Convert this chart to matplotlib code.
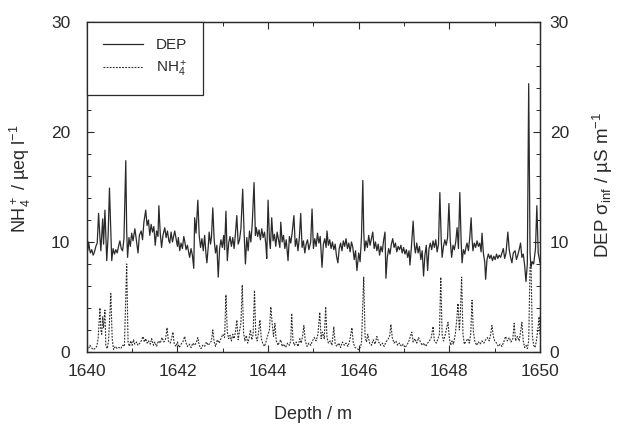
import matplotlib
matplotlib.use('Agg')
import matplotlib.pyplot as plt
from matplotlib.ticker import MultipleLocator
from matplotlib.lines import Line2D

plt.rcParams['font.family'] = ['Liberation Sans', 'DejaVu Sans']
plt.rcParams['mathtext.fontset'] = 'custom'
plt.rcParams['mathtext.rm'] = 'Liberation Sans'
plt.rcParams['mathtext.it'] = 'Liberation Sans:italic'

# DEP conductivity (right axis)
dep_depth = [
    1640.00, 1640.02, 1640.04, 1640.06, 1640.08, 1640.11, 1640.14, 1640.17, 1640.20, 1640.23,
    1640.26, 1640.29, 1640.31, 1640.35, 1640.37, 1640.40, 1640.44, 1640.47, 1640.50, 1640.53,
    1640.55, 1640.58, 1640.61, 1640.64, 1640.67, 1640.70, 1640.73, 1640.76, 1640.79, 1640.82,
    1640.86, 1640.88, 1640.90, 1640.93, 1640.96, 1640.99, 1641.02, 1641.06, 1641.09, 1641.13,
    1641.16, 1641.20, 1641.23, 1641.26, 1641.30, 1641.33, 1641.36, 1641.39, 1641.42, 1641.45,
    1641.48, 1641.51, 1641.54, 1641.57, 1641.59, 1641.62, 1641.65, 1641.68, 1641.72, 1641.75,
    1641.78, 1641.81, 1641.83, 1641.86, 1641.89, 1641.92, 1641.94, 1641.97, 1642.00, 1642.02,
    1642.05, 1642.08, 1642.11, 1642.14, 1642.16, 1642.19, 1642.22, 1642.25, 1642.27, 1642.30,
    1642.33, 1642.36, 1642.38, 1642.41, 1642.45, 1642.48, 1642.51, 1642.54, 1642.57, 1642.60,
    1642.63, 1642.65, 1642.68, 1642.70, 1642.73, 1642.75, 1642.78, 1642.81, 1642.84, 1642.87,
    1642.90, 1642.93, 1642.96, 1642.99, 1643.02, 1643.04, 1643.07, 1643.10, 1643.13, 1643.16,
    1643.19, 1643.22, 1643.25, 1643.28, 1643.31, 1643.34, 1643.37, 1643.40, 1643.44, 1643.47,
    1643.50, 1643.53, 1643.56, 1643.59, 1643.62, 1643.65, 1643.69, 1643.72, 1643.74, 1643.77,
    1643.80, 1643.83, 1643.86, 1643.89, 1643.92, 1643.95, 1643.97, 1644.00, 1644.03, 1644.05,
    1644.08, 1644.11, 1644.14, 1644.17, 1644.20, 1644.23, 1644.26, 1644.28, 1644.31, 1644.34,
    1644.37, 1644.40, 1644.44, 1644.47, 1644.50, 1644.53, 1644.57, 1644.60, 1644.63, 1644.66,
    1644.69, 1644.72, 1644.75, 1644.78, 1644.81, 1644.84, 1644.87, 1644.90, 1644.94, 1644.97,
    1645.00, 1645.03, 1645.06, 1645.09, 1645.12, 1645.15, 1645.19, 1645.22, 1645.25, 1645.28,
    1645.30, 1645.33, 1645.36, 1645.39, 1645.42, 1645.45, 1645.48, 1645.51, 1645.54, 1645.57,
    1645.60, 1645.63, 1645.66, 1645.69, 1645.72, 1645.75, 1645.78, 1645.81, 1645.84, 1645.87,
    1645.90, 1645.93, 1645.96, 1646.00, 1646.03, 1646.06, 1646.09, 1646.11, 1646.13, 1646.16,
    1646.19, 1646.22, 1646.25, 1646.28, 1646.31, 1646.34, 1646.37, 1646.40, 1646.43, 1646.46,
    1646.49, 1646.52, 1646.55, 1646.58, 1646.60, 1646.63, 1646.66, 1646.69, 1646.72, 1646.75,
    1646.78, 1646.81, 1646.84, 1646.87, 1646.90, 1646.93, 1646.96, 1646.99, 1647.02, 1647.05,
    1647.08, 1647.11, 1647.13, 1647.16, 1647.20, 1647.23, 1647.25, 1647.28, 1647.31, 1647.34,
    1647.37, 1647.40, 1647.43, 1647.46, 1647.49, 1647.52, 1647.55, 1647.58, 1647.61, 1647.64,
    1647.67, 1647.70, 1647.73, 1647.76, 1647.79, 1647.82, 1647.84, 1647.87, 1647.90, 1647.93,
    1647.96, 1647.99, 1648.02, 1648.05, 1648.08, 1648.11, 1648.14, 1648.17, 1648.20, 1648.23,
    1648.26, 1648.28, 1648.31, 1648.34, 1648.37, 1648.39, 1648.42, 1648.45, 1648.48, 1648.50,
    1648.52, 1648.55, 1648.58, 1648.61, 1648.64, 1648.67, 1648.70, 1648.72, 1648.75, 1648.78,
    1648.80, 1648.83, 1648.86, 1648.89, 1648.92, 1648.95, 1648.98, 1649.01, 1649.04, 1649.07,
    1649.10, 1649.13, 1649.16, 1649.19, 1649.22, 1649.25, 1649.29, 1649.32, 1649.35, 1649.38,
    1649.41, 1649.45, 1649.48, 1649.51, 1649.54, 1649.57, 1649.60, 1649.63, 1649.66, 1649.69,
    1649.72, 1649.75, 1649.78, 1649.80, 1649.83, 1649.86, 1649.90, 1649.93, 1649.96, 1650.00,
]
dep_value = [
    9.9, 9.2, 10.0, 9.4, 9.0, 9.3, 8.8, 9.1, 9.6, 9.9,
    12.6, 10.4, 9.2, 12.1, 9.8, 12.9, 8.3, 10.5, 14.9, 11.0,
    8.3, 9.4, 8.9, 9.3, 9.0, 9.6, 10.1, 9.4, 9.2, 10.3,
    17.4, 11.0, 8.6, 10.4, 9.6, 10.8, 10.1, 11.2, 10.3, 9.0,
    10.6, 11.0, 10.2, 11.8, 12.9, 11.5, 12.0, 10.6, 11.6, 10.9,
    11.4, 9.7, 11.0, 10.5, 13.3, 10.8, 9.5, 10.6, 11.3, 10.4,
    11.0, 10.1, 9.9, 10.9, 10.0, 10.6, 11.0, 10.3, 9.6, 10.4,
    9.2, 9.9, 9.4, 10.5, 10.1, 9.3, 9.7, 9.0, 8.6, 9.4,
    8.8, 7.6, 12.2, 10.8, 13.8, 10.6, 9.5, 10.3, 9.2, 10.6,
    8.9, 8.1, 9.6, 10.9, 9.8, 10.4, 13.1, 10.2, 9.0, 9.7,
    6.8, 9.4, 10.2, 9.5, 10.6, 9.3, 12.8, 8.3, 9.9, 10.5,
    9.6, 10.4, 9.4, 10.8, 12.4, 9.8, 10.2, 11.2, 14.8, 10.9,
    8.0, 10.4, 9.2, 11.0, 10.0, 11.6, 15.4, 10.6, 11.3, 10.5,
    11.1, 10.2, 11.2, 10.4, 10.9, 9.8, 8.5, 13.8, 10.2, 9.4,
    12.2, 10.1, 10.7, 9.6, 10.9, 10.2, 9.5, 11.8, 10.0, 10.6,
    9.4, 10.2, 8.3, 10.5, 9.9, 10.8, 12.4, 9.6, 10.3, 9.2,
    10.4, 12.6, 9.5, 10.1, 9.0, 9.8, 10.2, 9.3, 10.0, 13.0,
    9.4, 10.3, 9.6, 10.8, 9.9, 10.5, 7.7, 9.8, 10.3, 9.5,
    11.0, 9.7, 10.2, 9.4, 10.0, 9.3, 9.8, 8.7, 8.1, 9.4,
    9.9, 9.2, 10.1, 9.6, 10.3, 9.4, 9.9, 9.1, 10.0, 9.5,
    8.4, 9.2, 7.4, 9.0, 8.2, 10.4, 15.6, 11.0, 9.2, 10.1,
    9.5, 10.6, 9.7, 10.3, 10.9, 9.4, 10.0, 9.2, 9.8, 8.8,
    9.6, 9.1, 10.2, 10.9, 6.7, 8.6, 9.4, 8.9, 9.8, 10.3,
    9.5, 9.9, 9.1, 9.6, 9.3, 9.7, 9.0, 9.5, 8.9, 9.3,
    8.6, 9.2, 7.9, 9.4, 11.9, 9.6, 9.0, 9.9, 9.0, 9.6,
    8.4, 9.2, 6.9, 8.8, 9.7, 7.4, 9.4, 9.9, 9.3, 10.1,
    9.5, 10.2, 9.1, 9.8, 14.5, 10.2, 8.6, 9.6, 10.2, 9.7,
    10.4, 13.5, 10.1, 8.6, 9.7, 9.3, 10.0, 11.3, 9.4, 14.5,
    10.0, 8.1, 9.3, 8.9, 9.6, 9.9, 9.2, 10.4, 12.2, 10.3,
    9.2, 9.9, 9.5, 10.1, 9.6, 9.9, 9.1, 10.8, 9.0, 8.2,
    6.6, 8.4, 8.9, 8.5, 8.8, 8.3, 8.7, 8.4, 8.9, 8.5,
    8.8, 8.6, 9.0, 9.4, 8.5, 9.0, 10.9, 9.3, 8.6, 8.1,
    9.0, 9.2, 8.4, 8.8, 9.3, 9.9, 8.6, 8.9, 7.9, 6.4,
    8.0, 24.4, 9.0, 7.7, 8.2, 8.0, 9.4, 13.3, 9.0, 8.1,
]

# NH4+ concentration (left axis)
nh4_depth = [
    1640.00, 1640.04, 1640.07, 1640.10, 1640.14, 1640.18, 1640.22, 1640.25, 1640.29, 1640.31,
    1640.33, 1640.35, 1640.37, 1640.40, 1640.42, 1640.45, 1640.48, 1640.53, 1640.56, 1640.59,
    1640.63, 1640.67, 1640.71, 1640.75, 1640.79, 1640.83, 1640.88, 1640.91, 1640.94, 1640.97,
    1641.00, 1641.03, 1641.06, 1641.10, 1641.13, 1641.17, 1641.20, 1641.24, 1641.27, 1641.30,
    1641.33, 1641.36, 1641.40, 1641.43, 1641.47, 1641.50, 1641.54, 1641.58, 1641.62, 1641.66,
    1641.70, 1641.74, 1641.77, 1641.80, 1641.84, 1641.87, 1641.90, 1641.93, 1641.97, 1642.00,
    1642.04, 1642.08, 1642.12, 1642.16, 1642.19, 1642.22, 1642.26, 1642.30, 1642.34, 1642.38,
    1642.42, 1642.45, 1642.48, 1642.52, 1642.56, 1642.60, 1642.64, 1642.68, 1642.72, 1642.75,
    1642.78, 1642.81, 1642.84, 1642.88, 1642.92, 1642.96, 1643.00, 1643.04, 1643.07, 1643.10,
    1643.13, 1643.16, 1643.19, 1643.22, 1643.25, 1643.28, 1643.31, 1643.34, 1643.37, 1643.40,
    1643.43, 1643.46, 1643.49, 1643.52, 1643.55, 1643.58, 1643.61, 1643.64, 1643.67, 1643.70,
    1643.73, 1643.76, 1643.79, 1643.82, 1643.85, 1643.88, 1643.92, 1643.96, 1644.00, 1644.03,
    1644.06, 1644.09, 1644.12, 1644.15, 1644.18, 1644.22, 1644.25, 1644.28, 1644.31, 1644.35,
    1644.39, 1644.43, 1644.47, 1644.50, 1644.52, 1644.55, 1644.58, 1644.62, 1644.66, 1644.70,
    1644.73, 1644.76, 1644.79, 1644.82, 1644.86, 1644.90, 1644.94, 1644.98, 1645.02, 1645.06,
    1645.10, 1645.14, 1645.17, 1645.20, 1645.24, 1645.27, 1645.30, 1645.33, 1645.37, 1645.41,
    1645.45, 1645.48, 1645.52, 1645.56, 1645.60, 1645.64, 1645.68, 1645.72, 1645.76, 1645.80,
    1645.85, 1645.88, 1645.92, 1645.96, 1646.00, 1646.03, 1646.06, 1646.11, 1646.14, 1646.17,
    1646.20, 1646.24, 1646.28, 1646.32, 1646.36, 1646.40, 1646.44, 1646.48, 1646.52, 1646.56,
    1646.60, 1646.64, 1646.68, 1646.71, 1646.74, 1646.78, 1646.82, 1646.86, 1646.90, 1646.94,
    1646.98, 1647.02, 1647.06, 1647.10, 1647.13, 1647.17, 1647.20, 1647.24, 1647.28, 1647.32,
    1647.36, 1647.40, 1647.44, 1647.48, 1647.52, 1647.56, 1647.60, 1647.64, 1647.67, 1647.71,
    1647.75, 1647.78, 1647.81, 1647.84, 1647.87, 1647.90, 1647.94, 1647.97, 1648.00, 1648.03,
    1648.06, 1648.09, 1648.13, 1648.16, 1648.19, 1648.22, 1648.24, 1648.27, 1648.30, 1648.33,
    1648.37, 1648.41, 1648.44, 1648.47, 1648.50, 1648.53, 1648.56, 1648.60, 1648.64, 1648.68,
    1648.72, 1648.76, 1648.80, 1648.84, 1648.88, 1648.91, 1648.94, 1648.97, 1649.00, 1649.04,
    1649.08, 1649.12, 1649.16, 1649.20, 1649.24, 1649.28, 1649.32, 1649.36, 1649.40, 1649.43,
    1649.46, 1649.50, 1649.54, 1649.57, 1649.60, 1649.63, 1649.66, 1649.69, 1649.72, 1649.75,
    1649.78, 1649.80, 1649.83, 1649.86, 1649.89, 1649.92, 1649.95, 1649.98, 1650.00,
]
nh4_value = [
    0.1, 0.3, 0.6, 0.4, 0.2, 0.3, 0.5, 1.2, 4.0, 2.0,
    1.6, 3.2, 2.2, 3.8, 0.6, 0.3, 1.0, 5.3, 1.2, 0.2,
    0.5, 0.3, 0.4, 0.3, 0.6, 0.5, 8.0, 0.9, 0.5, 1.0,
    0.6, 1.1, 0.7, 0.9, 0.6, 0.8, 1.0, 1.4, 0.9, 1.2,
    0.8, 1.0, 0.7, 1.2, 0.6, 0.9, 0.5, 1.0, 0.8, 1.3,
    0.9, 1.2, 2.2, 1.0, 0.8, 1.2, 1.8, 0.7, 0.5, 0.9,
    0.4, 0.7, 0.9, 1.4, 0.8, 0.5, 0.7, 0.4, 0.8, 0.6,
    0.9, 1.3, 0.6, 0.3, 0.6, 0.5, 0.9, 0.6, 0.8, 1.0,
    2.0, 0.9, 0.5, 1.1, 0.8, 1.2, 1.6, 1.3, 5.2, 1.8,
    1.2, 1.5, 1.0, 1.6, 1.2, 1.8, 2.9, 1.1, 1.9, 2.6,
    6.1, 1.7, 1.0, 1.5, 0.8, 1.2, 2.0, 1.1, 1.6, 5.6,
    1.4, 1.0, 1.8, 2.9, 1.2, 0.8, 0.5, 1.0, 1.6, 2.0,
    4.1, 2.6, 1.4, 2.6, 1.0, 0.6, 0.9, 1.1, 0.5, 0.7,
    0.4, 0.8, 0.6, 1.0, 3.5, 1.0, 0.6, 0.9, 0.5, 1.2,
    0.8, 1.4, 2.4, 1.0, 0.5, 0.8, 0.6, 1.0, 1.3, 1.0,
    1.6, 3.6, 1.2, 1.8, 1.2, 4.1, 1.3, 0.8, 1.0, 0.6,
    2.3, 0.7, 0.5, 0.8, 0.4, 0.9, 0.6, 0.8, 0.5, 1.0,
    2.2, 0.8, 0.4, 0.3, 0.2, 0.4, 0.8, 6.8, 1.4, 0.9,
    1.6, 0.8, 0.6, 1.1, 0.7, 1.4, 0.9, 0.6, 0.8, 0.5,
    0.9, 1.1, 1.4, 2.5, 1.3, 0.8, 1.0, 0.6, 0.8, 0.5,
    0.7, 0.4, 0.6, 0.9, 1.3, 1.8, 0.9, 1.2, 0.8, 1.3,
    0.9, 0.6, 0.8, 0.5, 0.8, 1.0, 1.3, 2.3, 1.0, 0.8,
    1.2, 1.6, 6.8, 1.6, 1.0, 1.4, 2.2, 2.7, 1.2, 0.6,
    1.0, 0.7, 1.6, 2.8, 4.4, 2.0, 3.2, 6.8, 1.6, 0.7,
    1.0, 1.2, 0.8, 1.6, 4.7, 1.8, 1.0, 0.6, 0.9, 0.7,
    1.0, 0.8, 1.1, 1.3, 1.0, 1.6, 2.4, 1.4, 1.0, 0.8,
    0.5, 0.7, 0.5, 0.9, 1.4, 1.0, 1.3, 0.9, 1.2, 2.6,
    1.0, 1.4, 1.0, 1.8, 2.7, 1.0, 0.4, 0.6, 0.3, 1.0,
    7.8, 8.2, 1.5, 0.6, 0.4, 1.0, 2.0, 3.2, 1.5,
]

ink = '#2a2a2a'
dash = (0, (1.6, 1.2))

fig = plt.figure(figsize=(6.2, 4.26), dpi=100)
ax = fig.add_axes([0.140, 0.174, 0.731, 0.774])
ax2 = ax.twinx()

ax.plot(nh4_depth, nh4_value, color=ink, linewidth=0.8, linestyle=dash)
ax2.plot(dep_depth, dep_value, color=ink, linewidth=0.9)

ax.set_xlim(1640, 1650)
ax.set_ylim(0, 30)
ax2.set_ylim(0, 30)

ax.xaxis.set_major_locator(MultipleLocator(2))
ax.xaxis.set_minor_locator(MultipleLocator(1))
for a in (ax, ax2):
    a.yaxis.set_major_locator(MultipleLocator(10))
    a.yaxis.set_minor_locator(MultipleLocator(2))
    a.tick_params(which='both', direction='in', colors=ink, labelsize=12.5, labelcolor=ink)
    a.tick_params(which='major', length=5, width=0.8)
    a.tick_params(which='minor', length=3, width=0.7)
    for s in a.spines.values():
        s.set_color(ink)
        s.set_linewidth(0.9)
ax.tick_params(axis='x', which='both', top=True, pad=9)
ax.tick_params(axis='y', which='both', pad=12)
ax2.tick_params(axis='y', which='both', pad=7)

ax.set_xlabel('Depth / m', fontsize=13, color=ink)
ax.xaxis.set_label_coords(0.5, -0.165)
ax.set_ylabel('NH$_4^+$ / µeq l$^{-1}$', fontsize=13, color=ink)
ax.yaxis.set_label_coords(-0.119, 0.524)
ax2.set_ylabel('DEP σ$_{\\rm inf}$ / µS m$^{-1}$', fontsize=13.5, color=ink)
ax2.yaxis.set_label_coords(1.112, 0.506)

handles = [
    Line2D([], [], color=ink, linewidth=0.9),
    Line2D([], [], color=ink, linewidth=0.8, linestyle=dash),
]
leg = ax2.legend(handles, ['DEP', 'NH$_4^+$'], loc='upper left', borderaxespad=0,
                 fancybox=False, framealpha=1, edgecolor=ink, fontsize=11,
                 handlelength=2.6, handletextpad=0.85, borderpad=1.05, labelspacing=0.45)
leg.get_frame().set_linewidth(0.9)
for t in leg.get_texts():
    t.set_color(ink)

fig.savefig('out.png', dpi=100)
